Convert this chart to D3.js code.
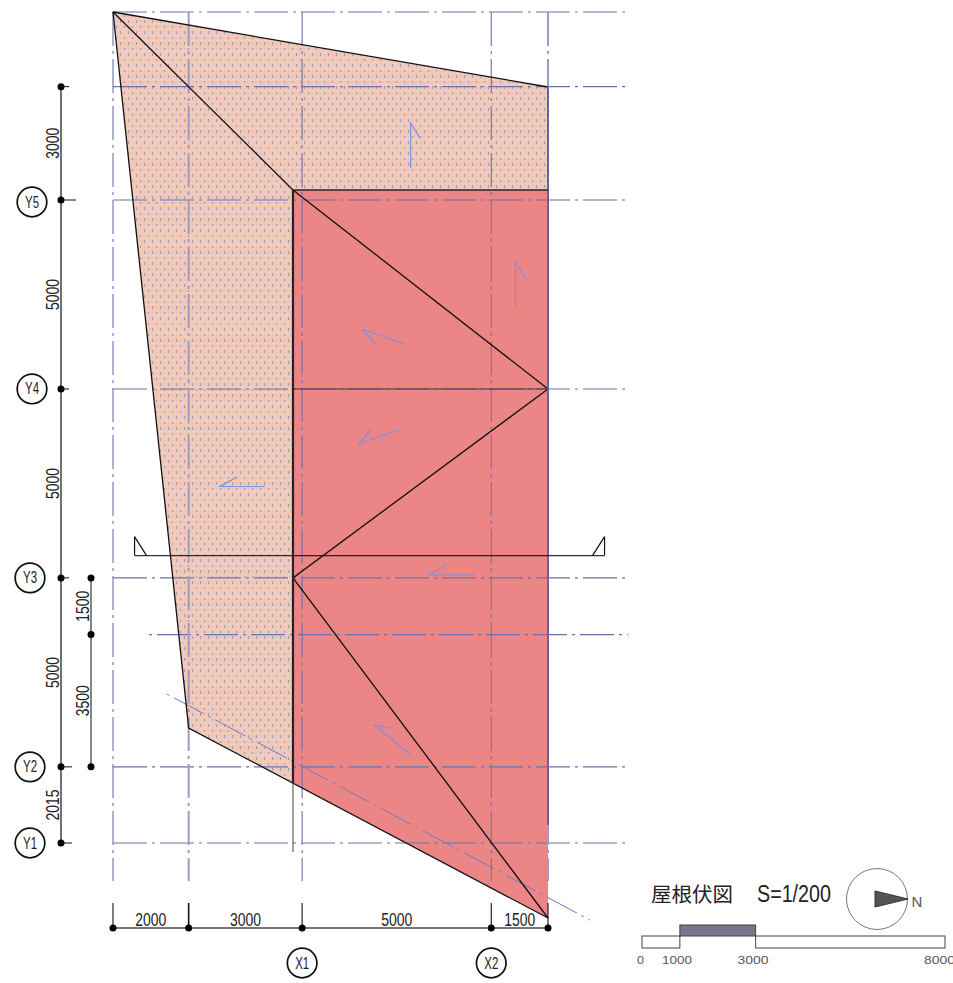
<!DOCTYPE html>
<html><head><meta charset="utf-8">
<style>html,body{margin:0;padding:0;background:#fff}svg{display:block}</style>
<script src="https://cdn.jsdelivr.net/npm/d3@7"></script></head>
<body><svg id="c" width="953" height="983"></svg>
<script>
// plan data, millimetres
const gridXNames = [["X1",5000],["X2",10000]];
const gridYNames = [["Y1",0],["Y2",2015],["Y3",7015],["Y4",12015],["Y5",17015]];
const gridXs = [0,2000,5000,10000,11500];
const gridYs = [0,2015,7015,12015,17015,20015,21990];
const auxGridY = [5515];
const dimX = [0,2000,5000,10000,11500];
const dimXLabels = ["2000","3000","5000","1500"];
const dimY = [0,2015,7015,12015,17015,20015];
const dimYLabels = ["2015","5000","5000","5000","3000"];
const dimY2 = [2015,5515,7015];
const dimY2Labels = ["3500","1500"];
const tiledRoof = [[0,21990],[11500,20005],[11500,17280],[4758,17280],[4758,1588],[2000,3043]];
const metalRoof = [[4758,17280],[11500,17280],[11500,-1985],[4758,1588]];
const hips = [[[0,21990],[4758,17280],[11500,12015],[4758,7015],[11500,-1985]]];
const eaves = [[[0,21990],[11500,20005]],[[0,21990],[2000,3043],[11500,-1985]]];
const wallLine = [[4758,17280],[4758,1588]];
const wallTail = [[4758,1588],[4758,-238]];
const ridgeH = [[4758,12015],[11500,12015]];
const diagonal = [[1375,3969],[12609,-2038]];
const section = [[570,7605],[12995,7605]];
const slopes = [
 [[7869,17862],[7869,19053],[8115,18656]],
 [[10640,14184],[10640,15374],[10891,14951]],
 [[7719,13205],[6582,13602],[6926,13231]],
 [[7639,10955],[6476,10558],[6820,10929]],
 [[4018,9434],[2828,9434],[3278,9685]],
 [[9569,7092],[8353,7092],[8803,7356]],
 [[7851,2355],[6899,3123],[7415,3030]]
];
const barTicks = [0,1000,3000,8000];

const svg = d3.select("#c");
const x = d3.scaleLinear().domain([0,11500]).range([113,548]);
const y = d3.scaleLinear().domain([0,17015]).range([843,200]);
const barX = d3.scaleLinear().domain([0,8000]).range([642,945]);
const line = d3.line().x(d=>x(d[0])).y(d=>y(d[1]));
const grid = "#6f70a8";

const defs = svg.append("defs");
const p = defs.append("pattern").attr("id","brick").attr("patternUnits","userSpaceOnUse")
  .attr("width",16).attr("height",11).attr("x",1).attr("y",1);
p.append("rect").attr("width",16).attr("height",11).attr("fill","#e8c8c0");
[[0,0,16,3],[0,5,16,3]].forEach(r=>
  p.append("rect").attr("x",r[0]).attr("y",r[1]).attr("width",r[2]).attr("height",r[3]).attr("fill","#fec8b0"));
[[7,0,2,3],[15,0,1,3],[0,0,1,3],[3,5,2,3],[11,5,2,3]].forEach(r=>
  p.append("rect").attr("x",r[0]).attr("y",r[1]).attr("width",r[2]).attr("height",r[3]).attr("fill","#e6cec8"));
[[3,3,1,2],[11,3,1,2],[7,8,1,3],[15,8,1,3]].forEach(r=>
  p.append("rect").attr("x",r[0]).attr("y",r[1]).attr("width",r[2]).attr("height",r[3]).attr("fill","#a09aa8"));

// roofs
svg.append("path").attr("d",line(tiledRoof)+"Z").attr("fill","url(#brick)");
svg.append("path").attr("d",line(metalRoof)+"Z").attr("fill","#ec8585");

// grid
const gH = svg.append("g").attr("fill","none").attr("stroke",grid).attr("stroke-width",1.1).attr("stroke-dasharray","34 5 3 5");
gridYs.forEach(v=>gH.append("line").attr("x1",x(0)).attr("x2",628).attr("y1",y(v)).attr("y2",y(v)));
auxGridY.forEach(v=>gH.append("line").attr("x1",147).attr("x2",628).attr("y1",y(v)).attr("y2",y(v)).attr("stroke-dashoffset",37));
gridXs.forEach(v=>{
  const thick = v===2000||v===11500;
  gH.append("line").attr("x1",x(v)).attr("x2",x(v)).attr("y1",12).attr("y2",881)
    .attr("stroke",thick?"#9c9cc6":grid).attr("stroke-width",thick?2:1.1);
});
svg.append("line").attr("fill","none").attr("stroke-dasharray","34 5 3 5")
  .attr("x1",x(diagonal[0][0])).attr("y1",y(diagonal[0][1])).attr("x2",x(diagonal[1][0])).attr("y2",y(diagonal[1][1]))
  .attr("stroke","#6f7cc0").attr("stroke-dashoffset",37);

// roof lines
const k = svg.append("g").attr("fill","none").attr("stroke","#111");
hips.concat(eaves).forEach(l=>k.append("path").attr("d",line(l)).attr("stroke-width",1.3));
k.append("path").attr("d",line(wallLine)).attr("stroke-width",2.2).attr("stroke","#2a2222");
k.append("path").attr("d",line(wallTail)).attr("stroke-width",1).attr("stroke","#444");
k.append("path").attr("d",line(ridgeH)).attr("stroke-width",.8).attr("stroke","#222");
k.append("line").attr("x1",x(11500)).attr("x2",x(11500)).attr("y1",y(20005)).attr("y2",y(476)).attr("stroke","#66659a").attr("stroke-width",2);
k.append("line").attr("x1",x(4758)).attr("x2",x(11500)).attr("y1",y(17280)).attr("y2",y(17280)).attr("stroke-width",1.5).attr("stroke","#2a2222");

// section mark
const sy = y(section[0][1]), sl = x(section[0][0]), sr = x(section[1][0]);
const sec = svg.append("g").attr("fill","none").attr("stroke","#111").attr("stroke-width",1.2);
sec.append("path").attr("d",`M${sl} ${sy}H${sr}`).attr("stroke-opacity",.85);
sec.append("path").attr("d",`M${sl} ${sy-19}V${sy}M${sl} ${sy-19}L${sl+12} ${sy}`);
sec.append("path").attr("d",`M${sr} ${sy-19}V${sy}M${sr} ${sy-19}L${sr-12} ${sy}`);

// slope arrows
const ar = svg.append("g").attr("fill","none").attr("stroke","#7c8fe2").attr("stroke-width",1.2);
slopes.forEach(s=>ar.append("path").attr("d",line([s[0],s[1],s[2]])));

// dimensions
const dim = svg.append("g");
const txt = (g,px,py,str,len,rot,fs)=>{
  g.append("text").attr("transform",`translate(${px},${py})`+(rot?` rotate(${rot})`:""))
   .attr("text-anchor","middle").attr("dominant-baseline","central")
   .attr("font-family","Liberation Sans").attr("font-size",fs||18).attr("fill","#222")
   .attr("textLength",len).attr("lengthAdjust","spacingAndGlyphs").text(str);
};
dim.append("line").attr("x1",61).attr("x2",61).attr("y1",y(20015)).attr("y2",y(0)).attr("stroke","#111").attr("stroke-width",1.2);
dimY.forEach(v=>{
  dim.append("circle").attr("cx",61).attr("cy",y(v)).attr("r",3.5).attr("fill","#000");
  const len = v===17015?15:(v===2015||v===0?11:8);
  dim.append("line").attr("x1",61).attr("x2",61+len).attr("y1",y(v)).attr("y2",y(v)).attr("stroke","#111");
});
dimYLabels.forEach((t,i)=>txt(dim,52.5,(y(dimY[i])+y(dimY[i+1]))/2,t,31,-90));
dim.append("line").attr("x1",91).attr("x2",91).attr("y1",y(7015)).attr("y2",y(2015)).attr("stroke","#666").attr("stroke-width",1.6);
dimY2.forEach(v=>dim.append("circle").attr("cx",91).attr("cy",y(v)).attr("r",3.5).attr("fill","#000"));
dimY2Labels.forEach((t,i)=>txt(dim,83,(y(dimY2[i])+y(dimY2[i+1]))/2,t,31,-90));
dim.append("line").attr("x1",x(0)).attr("x2",x(11500)).attr("y1",928).attr("y2",928).attr("stroke","#777").attr("stroke-width",1.8);
dimX.forEach(v=>{
  dim.append("line").attr("x1",x(v)).attr("x2",x(v)).attr("y1",903).attr("y2",928).attr("stroke","#111").attr("stroke-width",v===2000?1.6:1.1);
  dim.append("circle").attr("cx",x(v)).attr("cy",928).attr("r",3.5).attr("fill","#000");
});
dimXLabels.forEach((t,i)=>txt(dim,(x(dimX[i])+x(dimX[i+1]))/2,920,t,31));

// grid bubbles
const bub = (px,py,name)=>{
  dim.append("circle").attr("cx",px).attr("cy",py).attr("r",14.8).attr("fill","#fff").attr("stroke","#111").attr("stroke-width",1.7);
  txt(dim,px,py,name,14,0,17);
};
gridYNames.forEach(d=>bub(d[1]>=12015?32:30,y(d[1])+(d[0]==="Y5"?2:0),d[0]));
gridXNames.forEach(d=>bub(x(d[1]),963,d[0]));

// title
const ti = svg.append("g");
ti.append("text").attr("x",651).attr("y",902).attr("font-family","Noto Sans CJK JP").attr("font-size",20.5).attr("fill","#222").text("屋根伏図");
ti.append("text").attr("x",757).attr("y",902).attr("font-family","Liberation Sans").attr("font-size",23).attr("fill","#222")
  .attr("textLength",74).attr("lengthAdjust","spacingAndGlyphs").text("S=1/200");
ti.append("circle").attr("cx",877).attr("cy",899).attr("r",30.5).attr("fill","none").attr("stroke","#777");
ti.append("path").attr("d","M875 891L908 899L875 907Z").attr("fill","#555").attr("stroke","#333");
ti.append("text").attr("x",911.5).attr("y",907).attr("font-family","Liberation Sans").attr("font-size",15).attr("fill","#555").text("N");

// scale bar
const sb = svg.append("g").attr("stroke","#444").attr("stroke-width",1);
barTicks.slice(0,-1).forEach((v,i)=>{
  const dark = i===1;
  sb.append("rect").attr("x",barX(v)).attr("width",barX(barTicks[i+1])-barX(v))
    .attr("y",dark?925:936).attr("height",dark?11:12).attr("fill",dark?"#77778a":"#fff");
});
barTicks.forEach((v,i)=>{
  svg.append("text").attr("x",[640.5,677,753,939.5][i]).attr("y",964).attr("text-anchor","middle")
    .attr("font-family","Liberation Sans").attr("font-size",11).attr("fill","#555")
    .attr("textLength",[7,30,31,31][i]).attr("lengthAdjust","spacingAndGlyphs").text(v);
});
</script></body></html>
